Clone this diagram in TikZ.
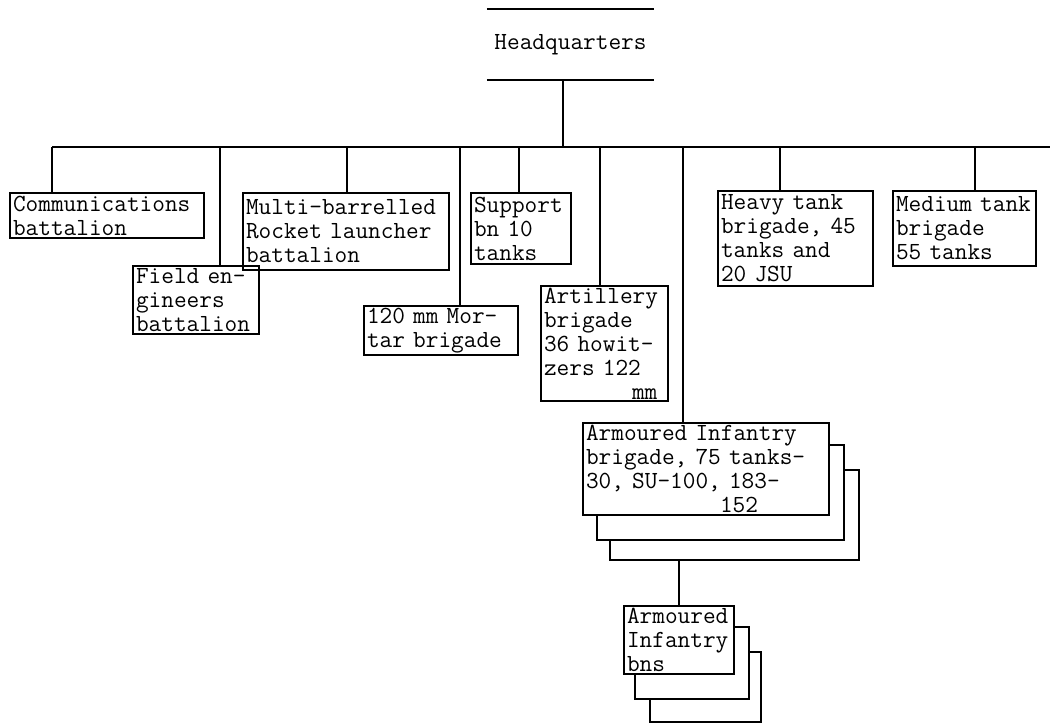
\documentclass[tikz,border=0pt]{standalone}
\usepackage{fontspec}
\newcommand\orgfont{\ttfamily\fontsize{12.3pt}{12pt}\selectfont\hyphenpenalty=10000\relax}
\usetikzlibrary{calc}

\begin{document}
\begin{tikzpicture}[x=0.5pt, y=-0.5pt, line width=1pt,
	unit/.style={draw, anchor=north west, align=left, inner xsep=1.5pt, inner ysep=1pt, font=\orgfont}]
	\useasboundingbox (0,0) rectangle (1050,726);
	
	% headquarters
	\node[font=\orgfont, minimum width=82.5pt, minimum height=34.5pt] (hq) at (570.5,44.5) {Headquarters};
	\draw (hq.north west) -- (hq.north east);
	\draw (hq.south west) -- (hq.south east);
	
	% first row of units
	\node[unit, text width=94pt, minimum height=22.5pt] (comms) at (9,192) {Communications\\battalion};
	\node[unit, text width=60pt, minimum height=34pt] (field) at (132,265) {Field en-\\gineers\\battalion};
	\node[unit, text width=100pt, minimum height=38.5pt] (rocket) at (242,192) {Multi-barrelled\\Rocket launcher\\battalion};
	\node[unit, text width=74pt, minimum height=24pt] (mortar) at (363,305) {120 mm Mor-\\tar brigade};
	\node[unit, text width=47pt, minimum height=35.5pt] (support) at (470,192) {Support\\bn 10\\tanks};
	\node[unit, text width=60.5pt, minimum height=57.5pt] (artillery) at (540,285) {Artillery\\brigade\\36 howit-\\zers 122\\\hspace*{44pt}mm};
	\node[unit, text width=74.5pt, minimum height=47.5pt] (heavy) at (717,190) {Heavy tank\\brigade, 45\\tanks and\\20 JSU};
	\node[unit, text width=68.5pt, minimum height=37.5pt] (medium) at (892,190) {Medium~tank\\brigade\\55 tanks};
	
	% armoured infantry
	\node[unit, text width=120pt, minimum height=45.5pt] (brig) at (582,422) {Armoured Infantry\\brigade, 75 tanks-\\30, SU-100, 183-\\\hspace*{67pt}152};
	\node[unit, text width=52pt, minimum height=34pt] (bns) at (623,605) {Armoured\\Infantry\\bns};
	
	% bus and drops
	\coordinate (bus-w) at (52,147);
	\coordinate (bus-e) at (1050,147);
	\draw (bus-w) -- (bus-e);
	\coordinate (d-field) at (220,147);
	\coordinate (d-rocket) at (347,147);
	\coordinate (d-mortar) at (460,147);
	\coordinate (d-support) at (519,147);
	\coordinate (d-hq) at (563,147);
	\coordinate (d-artillery) at (600,147);
	\coordinate (d-brig) at (683,147);
	\coordinate (d-heavy) at (780,147);
	\coordinate (d-medium) at (975,147);
	
	\draw (d-hq) -- (d-hq |- hq.south);
	\draw (bus-w) -- (bus-w |- comms.north);
	\draw (d-field) -- (d-field |- field.north);
	\draw (d-rocket) -- (d-rocket |- rocket.north);
	\draw (d-mortar) -- (d-mortar |- mortar.north);
	\draw (d-support) -- (d-support |- support.north);
	\draw (d-artillery) -- (d-artillery |- artillery.north);
	\draw (d-brig) -- (d-brig |- brig.north);
	\draw (d-heavy) -- (d-heavy |- heavy.north);
	\draw (d-medium) -- (d-medium |- medium.north);
	
	% stacked brigades
	\draw ($(brig.north east)+(0,23)$) -| ($(brig.south east)+(14,24)$) -| ($(brig.south west)+(15,0)$);
	\draw ($(brig.north east)+(14,48)$) -| ($(brig.south east)+(29,44)$) -| ($(brig.south west)+(28,24)$);
	\coordinate (brig-base) at ($(brig.south)+(0,44)$);
	\draw (brig-base -| bns.north) -- (bns.north);
	
	% stacked battalions
	\draw ($(bns.north east)+(0,22)$) -| ($(bns.south east)+(14,24)$) -| ($(bns.south west)+(12,0)$);
	\draw ($(bns.north east)+(14,47)$) -| ($(bns.south east)+(26,47)$) -| ($(bns.south west)+(27,24)$);
\end{tikzpicture}
\end{document}
